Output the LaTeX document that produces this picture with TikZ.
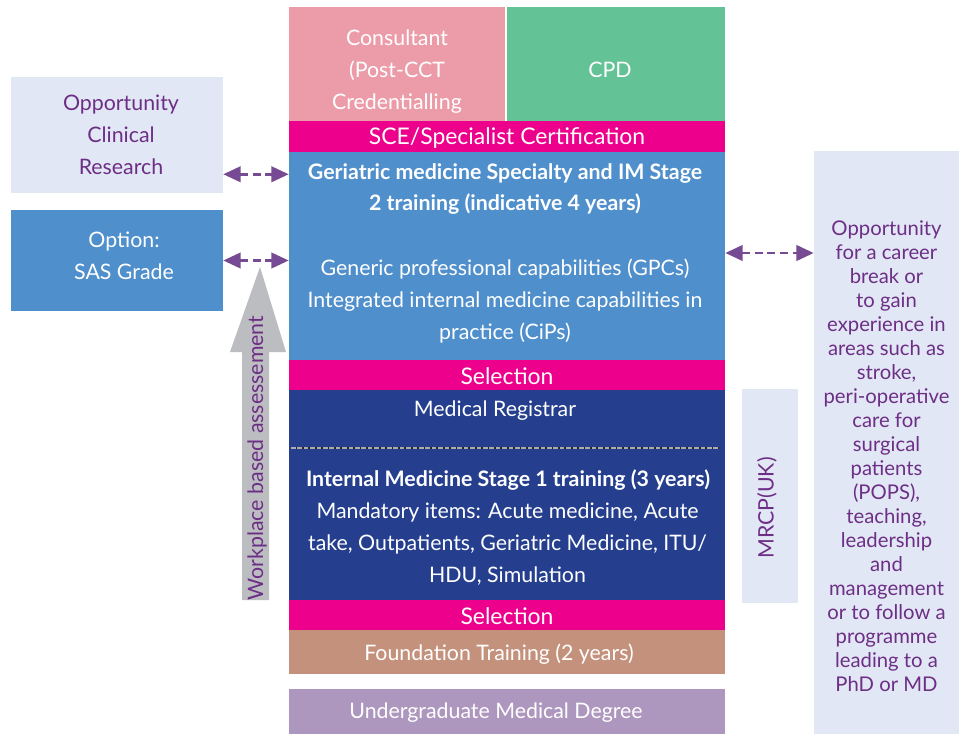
\documentclass[tikz,border=0pt]{standalone}
\usepackage{fontspec}
\setmainfont{Lato}
\usetikzlibrary{arrows.meta,calc}
\definecolor{cpink}{HTML}{EC9CA9}
\definecolor{cgreen}{HTML}{63C396}
\definecolor{cmag}{HTML}{EC008C}
\definecolor{cblue}{HTML}{4F8FCC}
\definecolor{cdark}{HTML}{253F8E}
\definecolor{ctan}{HTML}{C4927C}
\definecolor{clav}{HTML}{AE97BE}
\definecolor{clight}{HTML}{E1E7F4}
\definecolor{cpurp}{HTML}{6D2E86}
\definecolor{carrow}{HTML}{774B93}
\definecolor{cgray}{HTML}{BCBDC0}
\begin{document}
\begin{tikzpicture}[x=0.75pt,y=-0.75pt,
  sz/.style 2 args={minimum width=#1*0.75pt, minimum height=#2*0.75pt},
  box/.style={draw=none, inner sep=0pt},
  lbl/.style={inner sep=0pt, text=white, align=center, font=\fontsize{16}{24}\selectfont},
  big/.style={font=\fontsize{17.2}{24}\selectfont},
  bld/.style={font=\bfseries\fontsize{16}{24}\selectfont},
  dbl/.style={carrow, line width=2.2pt, dash pattern=on 6pt off 3.5pt,
     {Triangle[length=13pt,width=11.5pt]}-{Triangle[length=13pt,width=11.5pt]}}
]
\useasboundingbox (0,0) rectangle (959,734);
\fill[white] (0,0) rectangle (959,734);

% central column
\node[box, sz={216}{114}, fill=cpink] (cons) at (397,64) {};
\node[lbl] (constxt) at (397,72) {Consultant\\(Post-CCT\\Credentialling};
\node[box, sz={218}{114}, fill=cgreen] (cpd) at (616,64) {};
\node[lbl] (cpdtxt) at (610,70) {CPD};
\node[box, sz={436}{31}, fill=cmag] (sce) at (507,136.5) {};
\node[lbl, big] (scetxt) at (507,138.5) {SCE/Specialist Certification};
\node[box, sz={436}{208}, fill=cblue] (ger) at (507,256) {};
\node[lbl, bld] (gertitle) at (505,189) {Geriatric medicine Specialty and IM Stage\\2 training (indicative 4 years)};
\node[lbl] (gerbody) at (505,301) {Generic professional capabilities (GPCs)\\Integrated internal medicine capabilities in\\practice (CiPs)};
\node[box, sz={436}{30}, fill=cmag] (sel1) at (507,375) {};
\node[lbl, big] (sel1txt) at (507,376) {Selection};
\node[box, sz={436}{210}, fill=cdark] (reg) at (507,495) {};
\node[lbl] (regtxt) at (495,411) {Medical Registrar};
\draw[line width=2.2pt, black!85] (291,448) -- (719,448);
\draw[line width=2.2pt, gray!65, dash pattern=on 3.5pt off 1.3pt] (291,448) -- (719,448);
\node[lbl, bld] (imtitle) at (508,480) {Internal Medicine Stage 1 training (3 years)};
\node[lbl] (imbody) at (507.5,544) {Mandatory items: Acute medicine, Acute\\take, Outpatients, Geriatric Medicine, ITU/\\HDU, Simulation};
\node[box, sz={436}{30}, fill=cmag] (sel2) at (507,615) {};
\node[lbl, big] (sel2txt) at (507,616) {Selection};
\node[box, sz={436}{44}, fill=ctan] (found) at (507,652) {};
\node[lbl] (foundtxt) at (499,654) {Foundation Training (2 years)};
\node[box, sz={436}{45}, fill=clav] (ug) at (507,711.5) {};
\node[lbl] (ugtxt) at (496,713) {Undergraduate Medical Degree};

% left boxes
\node[box, sz={212}{116}, fill=clight] (ocr) at (117,135) {};
\node[lbl, text=cpurp] (ocrtxt) at (121,135) {Opportunity\\Clinical\\Research};
\node[box, sz={212}{101}, fill=cblue] (sas) at (117,260.5) {};
\node[lbl] (sastxt) at (124,256) {Option:\\SAS Grade};

% right boxes
\node[box, sz={145}{583}, fill=clight] (opp) at (886.5,442.5) {};
\node[lbl, text=cpurp, font=\fontsize{15.2}{18}\selectfont] (opptxt) at (886.5,456)
  {Opportunity\\for a career\\break or\\to gain\\experience in\\areas such as\\stroke,\\peri-operative\\care for\\surgical\\patients\\(POPS),\\teaching,\\leadership\\and\\management\\or to follow a\\programme\\leading to a\\PhD or MD};
\node[box, sz={56}{214}, fill=clight] (mrcp) at (770,496) {};
\node[lbl, text=cpurp, rotate=90] (mrcptxt) at (767,508) {MRCP(UK)};

% workplace arrow
\fill[cgray] (260,267) -- (286,352) -- (269,352) -- (269,600) -- (242,600) -- (242,352) -- (230,352) -- cycle;
\node[lbl, text=cpurp, rotate=90] (wba) at (257,458) {Workplace based assessement};

% connectors
\draw[dbl] ([yshift=14.25pt]ocr.south east) coordinate (a1) -- (a1 -| ger.west);
\draw[dbl] (sas.east) -- (sas.east -| ger.west);
\draw[dbl] ([yshift=2.25pt]ger.east) coordinate (a3) -- (a3 -| opp.west);
\end{tikzpicture}
\end{document}
